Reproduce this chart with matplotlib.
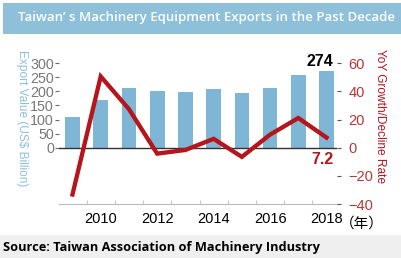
"""Taiwan machinery equipment exports over the past decade: bars + YoY line."""

import matplotlib.pyplot as plt
from matplotlib.patches import Rectangle

years = [2009, 2010, 2011, 2012, 2013, 2014, 2015, 2016, 2017, 2018]
export_value = [108, 168, 211, 201, 197, 209, 194, 211, 258, 274]
yoy_rate = [-33.2, 50.6, 27.4, -4.2, -1.6, 6.3, -6.5, 9.3, 21.1, 7.2]
left_ticks = [0, 50, 100, 150, 200, 250, 300]
right_ticks = [-40, -20, 0, 20, 40, 60]
year_labels = [2010, 2012, 2014, 2016, 2018]

BAR_BLUE = "#7fb6d6"
LINE_RED = "#b5151b"
TICK_RED = "#b23a36"
LABEL_BLUE = "#8cc0dd"

plt.rcParams["font.family"] = ["Liberation Sans", "DejaVu Sans"]

fig = plt.figure(figsize=(4.02, 2.58), dpi=100)

# Title banner and footer band
fig.patches.append(Rectangle((0.008, 0.870), 0.992, 0.118, transform=fig.transFigure,
                             facecolor="#8ec0da", edgecolor="none", zorder=0))
fig.patches.append(Rectangle((0, 0), 1, 0.09, transform=fig.transFigure,
                             facecolor="#efefef", edgecolor="none", zorder=0))
fig.text(0.045, 0.932, "Taiwan’ s Machinery Equipment Exports in the Past Decade",
         color="white", fontsize=9.55, fontweight="semibold", family="Open Sans",
         va="center", ha="left")
fig.text(0.008, 0.04, "Source: Taiwan Association of Machinery Industry",
         color="black", fontsize=9.2, fontweight="bold", family="Open Sans",
         va="center", ha="left")

ax = fig.add_axes([0.148, 0.209, 0.691, 0.557])
ax2 = ax.twinx()

ax.bar(years, export_value, width=0.52, color=BAR_BLUE, zorder=2)
ax.axhline(0, color="#333333", linewidth=1.0, zorder=3)
ax.set_ylim(-200, 310)
ax.set_xlim(2008.54, 2018.38)
ax.set_yticks(left_ticks)
ax.tick_params(axis="y", colors="#6d6d6d", labelcolor="#777777", labelsize=10.3,
               length=3, pad=1, direction="out")
ax.set_xticks(year_labels)
ax.set_xticks([y + 0.5 for y in years[:-1]], minor=True)
ax.tick_params(axis="x", which="major", length=0, labelsize=10.5, pad=6)
ax.tick_params(axis="x", which="minor", length=3, direction="in", color="#bbbbbb")
ax.set_ylabel("Export Value (US$ Billion)", color=LABEL_BLUE, fontsize=8.6,
              rotation=270, va="center", ha="center")
ax.yaxis.set_label_coords(-0.135, 0.6)

ax.annotate(f"{export_value[-1]}", (years[-1], export_value[-1]),
            xytext=(5, 1), textcoords="offset points", ha="right", va="bottom",
            fontsize=11.5, fontweight="bold", color="black", annotation_clip=False)

ax2.plot(years, yoy_rate, color=LINE_RED, linewidth=3.1, solid_joinstyle="miter",
         zorder=4)
ax2.set_ylim(-40, 62)
ax2.set_yticks(right_ticks)
ax2.tick_params(axis="y", colors="#555555", labelcolor=TICK_RED, labelsize=10.5,
                length=3, pad=5)
ax2.set_ylabel("YoY Growth/Decline Rate", color=LINE_RED, fontsize=8.6,
               rotation=270, va="center", ha="center")
ax2.yaxis.set_label_coords(1.154, 0.615)
ax2.annotate(f"{yoy_rate[-1]}", (years[-1], 0), xytext=(5, -3),
             textcoords="offset points", ha="right", va="top",
             fontsize=11.5, fontweight="bold", color=LINE_RED,
             annotation_clip=False)

for a in (ax, ax2):
    for side in ("top", "left", "right", "bottom"):
        a.spines[side].set_visible(False)
ax.spines["bottom"].set_visible(True)
ax.spines["bottom"].set_color("#bbbbbb")
ax2.patch.set_visible(False)

ax.text(1.01, -0.085, "（年）", transform=ax.transAxes, fontsize=10.5,
        family=["Noto Sans CJK SC", "DejaVu Sans"], va="top", ha="left")

fig.savefig("out.png", dpi=100)
